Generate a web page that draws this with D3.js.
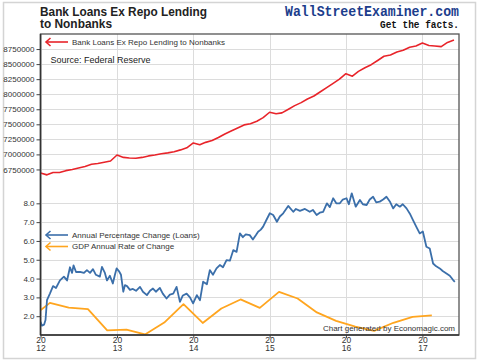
<!DOCTYPE html>
<html>
<head>
<meta charset="utf-8">
<script src="https://cdn.jsdelivr.net/npm/d3@7"></script>
<style>
  html, body { margin: 0; padding: 0; background: #fff; }
  svg { display: block; font-family: "Liberation Sans", Arial, sans-serif; }
</style>
</head>
<body>
<div id="chart"></div>
<script>
// loans, monthly, Jan 2012 .. Jun 2017
const loanStart = "2012-01-01"
const loanValues = [
    6690000, 6660000, 6700000, 6700000, 6730000, 6750000, 6775000, 6800000, 6835000, 6850000, 6870000, 6890000,
    6990000, 6950000, 6940000, 6935000, 6950000, 6975000, 6990000, 7010000, 7025000, 7045000, 7075000, 7110000,
    7190000, 7160000, 7200000, 7230000, 7280000, 7340000, 7390000, 7440000, 7490000, 7510000, 7550000, 7610000,
    7700000, 7675000, 7690000, 7750000, 7810000, 7860000, 7920000, 7970000, 8040000, 8110000, 8180000, 8250000,
    8340000, 8300000, 8380000, 8440000, 8490000, 8560000, 8630000, 8650000, 8700000, 8730000, 8780000, 8800000,
    8850000, 8810000, 8800000, 8790000, 8860000, 8900000
]

// annual percentage change (loans)
const pctDates = [
    "2012-01-01","2012-01-08","2012-01-18","2012-01-25","2012-02-01","2012-02-15","2012-03-01","2012-03-15",
    "2012-04-03","2012-04-22","2012-05-07","2012-05-21","2012-05-31","2012-06-07","2012-06-19","2012-07-08",
    "2012-07-27","2012-08-10","2012-08-25","2012-09-08","2012-09-22","2012-10-11","2012-10-21","2012-11-04",
    "2012-11-14","2012-11-28","2012-12-12","2012-12-22","2012-12-30","2013-01-10","2013-01-20","2013-01-31",
    "2013-02-08","2013-02-18","2013-03-04","2013-03-18","2013-04-02","2013-04-21","2013-05-05","2013-05-24",
    "2013-06-08","2013-06-22","2013-07-06","2013-07-25","2013-08-08","2013-08-26","2013-09-11","2013-09-27",
    "2013-10-13","2013-10-29","2013-11-12","2013-11-30","2013-12-16","2013-12-31","2014-01-18","2014-02-02",
    "2014-02-17","2014-03-07","2014-03-21","2014-04-05","2014-04-22","2014-05-08","2014-05-23","2014-06-09",
    "2014-06-25","2014-07-11","2014-07-27","2014-08-12","2014-08-26","2014-09-09","2014-09-28","2014-10-13",
    "2014-10-27","2014-11-07","2014-11-20","2014-12-01","2014-12-16","2015-01-02","2015-01-18","2015-02-05",
    "2015-02-19","2015-03-07","2015-03-31","2015-04-24","2015-05-07","2015-05-26","2015-06-19","2015-07-12",
    "2015-07-27","2015-08-14","2015-08-29","2015-09-14","2015-10-02","2015-10-16","2015-11-01","2015-11-16",
    "2015-12-03","2015-12-17","2016-01-04","2016-01-15","2016-01-29","2016-02-17","2016-03-08","2016-03-22",
    "2016-04-09","2016-04-24","2016-05-10","2016-05-25","2016-06-11","2016-06-27","2016-07-13","2016-07-29",
    "2016-08-14","2016-08-29","2016-09-15","2016-09-29","2016-10-17","2016-11-02","2016-11-17","2016-12-03",
    "2016-12-19","2017-01-03","2017-01-20","2017-02-05","2017-02-21","2017-03-08","2017-03-25","2017-04-08",
    "2017-04-26","2017-05-12","2017-05-28","2017-06-05"
]
const pctValues = [
    1.7, 1.5, 1.55, 1.8, 2.85, 3.2, 3.6, 3.5,
    3.9, 4.1, 3.9, 4.6, 4.3, 4.7, 4.35, 4.36,
    4.3, 4.45, 4.3, 4.5, 4.2, 4.1, 4.62, 4.3,
    3.9, 4.15, 3.74, 4.2, 4.54, 4.4, 4.2, 3.3,
    3.65, 3.6, 3.4, 3.45, 3.35, 3.56, 3.3, 3.12,
    3.35, 3.47, 3.3, 3.5, 3.2, 2.94, 3.15, 3.2,
    3.56, 2.76, 3.1, 3.2, 3.0, 2.68, 3.12, 2.85,
    3.83, 3.7, 4.45, 4.2, 4.54, 4.72, 4.6, 4.98,
    4.95, 5.51, 5.42, 6.4, 6.2, 6.35, 6.31, 6.08,
    6.3, 6.49, 6.6, 6.76, 7.1, 7.47, 7.38, 7.02,
    7.3, 7.47, 7.86, 7.55, 7.7, 7.6, 7.7, 7.55,
    7.65, 7.38, 7.5, 7.55, 8.0, 7.8, 8.27, 8.0,
    8.0, 8.2, 8.27, 7.95, 8.53, 7.82, 8.18, 7.95,
    7.91, 8.2, 8.35, 8.05, 8.09, 8.2, 8.35, 8.1,
    7.73, 7.95, 7.82, 7.95, 7.73, 7.45, 7.11, 6.75,
    6.4, 6.5, 5.69, 5.6, 4.8, 4.65, 4.54, 4.4,
    4.27, 4.15, 3.92, 3.83
]

// GDP annual rate of change, quarterly (mid quarter)
const gdpDates = [
    "2011-11-15","2012-02-15","2012-05-15","2012-08-15","2012-11-15","2013-02-15","2013-05-15","2013-08-15",
    "2013-11-15","2014-02-15","2014-05-15","2014-08-15","2014-11-15","2015-02-15","2015-05-15","2015-08-15",
    "2015-11-15","2016-02-15","2016-05-15","2016-08-15","2016-11-15","2017-02-15"
]
const gdpValues = [
    1.9, 2.71, 2.46, 2.37, 1.25, 1.29, 1.03, 1.66,
    2.64, 1.64, 2.41, 2.89, 2.44, 3.29, 2.94, 2.2,
    1.75, 1.45, 1.22, 1.65, 1.96, 2.04
]

const loanTicks = [6750000, 7000000, 7250000, 7500000, 7750000, 8000000, 8250000, 8500000, 8750000]
const pctTicks = [2, 3, 4, 5, 6, 7, 8]

const parse = d3.timeParse("%Y-%m-%d")
const start = parse(loanStart)
const loans = loanValues.map((v, i) => ({date: d3.timeMonth.offset(start, i), value: v}))
const pct = pctDates.map((d, i) => ({date: parse(d), value: pctValues[i]}))
const gdp = gdpDates.map((d, i) => ({date: parse(d), value: gdpValues[i]}))

const W = 480, H = 362
const pLeft = 40.5, pRight = 459, pTop = 34, pBottom = 335, pMid = 184.5

const svg = d3.select("#chart").append("svg")
    .attr("width", W)
    .attr("height", H)

svg.append("rect")
    .attr("x", 3.5).attr("y", 2.5)
    .attr("width", 472).attr("height", 356)
    .attr("fill", "#fff")
    .attr("stroke", "#d4d4d4")
    .attr("stroke-width", 1.5)

const x = d3.scaleTime()
    .domain([parse("2012-01-01"), parse("2017-06-25")])
    .range([pLeft, pRight])

const yLoan = d3.scaleLinear()
    .domain([6500000, 9000000])
    .range([pMid, pTop])

const yPct = d3.scaleLinear()
    .domain([1, 9])
    .range([pBottom, pMid])

const years = d3.timeYear.range(parse("2012-01-01"), parse("2017-06-01"))

// grid
const grid = svg.append("g").attr("stroke", "#dcdcdc").attr("stroke-width", 1)
grid.selectAll(".vx").data(years).enter().append("line")
    .attr("x1", d => Math.round(x(d)) + 0.5).attr("x2", d => Math.round(x(d)) + 0.5)
    .attr("y1", pTop).attr("y2", pBottom)
grid.selectAll(".hl").data(loanTicks).enter().append("line")
    .attr("x1", pLeft).attr("x2", pRight)
    .attr("y1", d => Math.round(yLoan(d)) + 0.5).attr("y2", d => Math.round(yLoan(d)) + 0.5)
grid.selectAll(".hp").data(pctTicks).enter().append("line")
    .attr("x1", pLeft).attr("x2", pRight)
    .attr("y1", d => Math.round(yPct(d)) + 0.5).attr("y2", d => Math.round(yPct(d)) + 0.5)

// clip
svg.append("clipPath").attr("id", "plot")
    .append("rect").attr("x", pLeft).attr("y", pTop).attr("width", pRight - pLeft).attr("height", pBottom - pTop)

const plot = svg.append("g").attr("clip-path", "url(#plot)")

plot.append("path")
    .datum(loans)
    .attr("fill", "none")
    .attr("stroke", "#e8242a")
    .attr("stroke-width", 1.6)
    .attr("stroke-linejoin", "round")
    .attr("d", d3.line().x(d => x(d.date)).y(d => yLoan(d.value)))

plot.append("path")
    .datum(gdp)
    .attr("fill", "none")
    .attr("stroke", "#ffa51f")
    .attr("stroke-width", 1.8)
    .attr("stroke-linejoin", "round")
    .attr("d", d3.line().x(d => x(d.date)).y(d => yPct(d.value)))

plot.append("path")
    .datum(pct)
    .attr("fill", "none")
    .attr("stroke", "#3b6faa")
    .attr("stroke-width", 1.8)
    .attr("stroke-linejoin", "round")
    .attr("d", d3.line().x(d => x(d.date)).y(d => yPct(d.value)))

// frame
svg.append("rect")
    .attr("x", pLeft).attr("y", pTop)
    .attr("width", pRight - pLeft).attr("height", pBottom - pTop)
    .attr("fill", "none")
    .attr("stroke", "#555")
    .attr("stroke-width", 1.3)

// axes
function styleAxis(g){
    g.select(".domain").remove()
    g.selectAll(".tick line").attr("stroke", "#444")
    g.selectAll(".tick text").attr("fill", "#333").style("font-size", "8px")
        .style("font-family", "'Liberation Sans', Arial, sans-serif")
}

svg.append("g")
    .attr("transform", `translate(${pLeft},0)`)
    .call(d3.axisLeft(yLoan).tickValues(loanTicks).tickSize(4).tickPadding(2).tickFormat(d3.format("d")))
    .call(styleAxis)

svg.append("g")
    .attr("transform", `translate(${pLeft},0)`)
    .call(d3.axisLeft(yPct).tickValues(pctTicks).tickSize(4).tickPadding(2).tickFormat(d3.format(".1f")))
    .call(styleAxis)

const xAxis = svg.append("g")
    .attr("transform", `translate(0,${pBottom})`)
    .call(d3.axisBottom(x).tickValues(years).tickSize(3).tickPadding(1).tickFormat(""))
    .call(styleAxis)

// two-line year labels: "20" over "12"
xAxis.selectAll(".tick text")
    .style("font-size", "8.5px")
    .style("line-height", "1")
    .attr("dy", null)
    .each(function(d){
        const t = d3.select(this)
        const yr = d3.timeFormat("%Y")(d)
        t.append("tspan").attr("x", 0).attr("y", 7.8).text(yr.slice(0, 2))
        t.append("tspan").attr("x", 0).attr("y", 15.5).text(yr.slice(2))
    })

svg.append("line")
    .attr("x1", pLeft).attr("x2", pLeft).attr("y1", pTop).attr("y2", pBottom)
    .attr("stroke", "#333").attr("stroke-width", 1.5)
svg.append("line")
    .attr("x1", pLeft).attr("x2", pRight).attr("y1", pBottom).attr("y2", pBottom)
    .attr("stroke", "#333").attr("stroke-width", 1.5)

// titles
svg.append("text")
    .attr("x", 40).attr("y", 16)
    .attr("font-weight", "bold").attr("font-size", 12.5).attr("fill", "#222")
    .attr("textLength", 167).attr("lengthAdjust", "spacingAndGlyphs")
    .text("Bank Loans Ex Repo Lending")
svg.append("text")
    .attr("x", 40).attr("y", 28)
    .attr("font-weight", "bold").attr("font-size", 12.5).attr("fill", "#222")
    .attr("textLength", 72).attr("lengthAdjust", "spacingAndGlyphs")
    .text("to Nonbanks")

svg.append("text")
    .attr("x", 285).attr("y", 16)
    .attr("font-family", "'Liberation Mono', 'DejaVu Sans Mono', monospace")
    .attr("font-weight", "bold").attr("font-size", 14).attr("fill", "#1c3d8c")
    .attr("textLength", 174).attr("lengthAdjust", "spacingAndGlyphs")
    .text("WallStreetExaminer.com")
svg.append("text")
    .attr("x", 380).attr("y", 28)
    .attr("font-family", "'Liberation Mono', 'DejaVu Sans Mono', monospace")
    .attr("font-weight", "bold").attr("font-size", 10).attr("fill", "#111")
    .attr("textLength", 79).attr("lengthAdjust", "spacingAndGlyphs")
    .text("Get the facts.")

// legends
function legendArrow(y, color, label){
    svg.append("line")
        .attr("x1", 46).attr("x2", 68).attr("y1", y).attr("y2", y)
        .attr("stroke", color).attr("stroke-width", 1.6)
    svg.append("path")
        .attr("d", `M${50.5},${y - 4} L${46},${y} L${50.5},${y + 4}`)
        .attr("fill", "none").attr("stroke", color).attr("stroke-width", 1.6)
    svg.append("text")
        .attr("x", 72).attr("y", y + 2.8)
        .attr("font-size", 8).attr("fill", "#333")
        .text(label)
}
legendArrow(42, "#e8242a", "Bank Loans Ex Repo Lending to Nonbanks")
legendArrow(235, "#3b6faa", "Annual Percentage Change (Loans)")
legendArrow(246.5, "#ffa51f", "GDP Annual Rate of Change")

svg.append("text")
    .attr("x", 50.5).attr("y", 62.5)
    .attr("font-size", 9).attr("fill", "#222")
    .text("Source: Federal Reserve")

svg.append("text")
    .attr("x", 455).attr("y", 330.5)
    .attr("text-anchor", "end")
    .attr("font-size", 8).attr("fill", "#333")
    .text("Chart generated by Economagic.com")
</script>
</body>
</html>
